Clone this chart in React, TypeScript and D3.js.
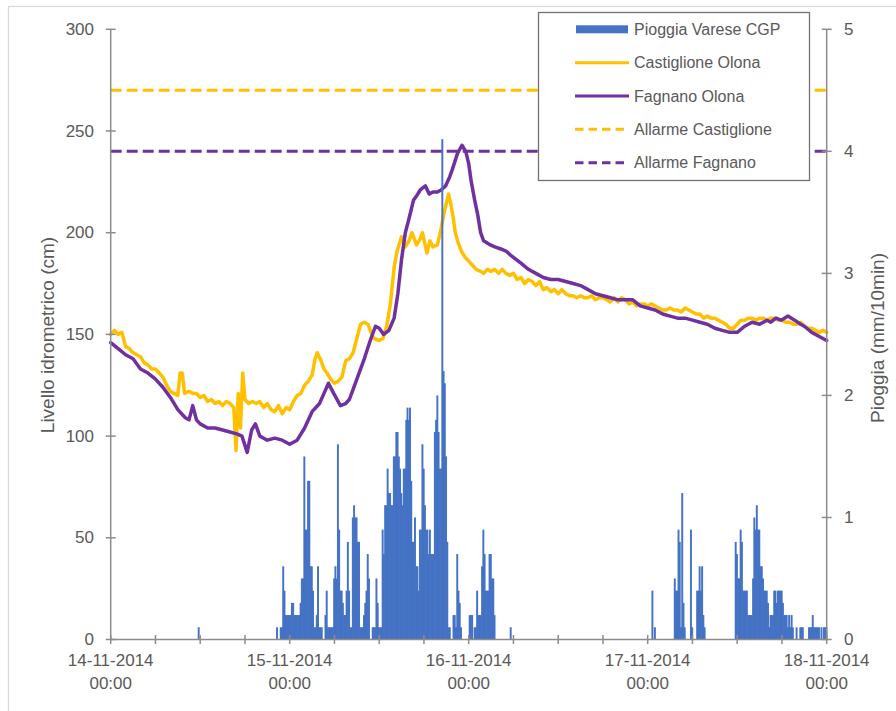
import React from 'react';
import * as d3 from 'd3';

const START = new Date(2014, 10, 14, 0, 0);
const END = new Date(2014, 10, 18, 0, 0);

const dayLabels = ['14-11-2014', '15-11-2014', '16-11-2014', '17-11-2014', '18-11-2014'];
const timeLabel = '00:00';
const levelTicks = [0, 50, 100, 150, 200, 250, 300];
const rainTicks = [0, 1, 2, 3, 4, 5];

const alarmCastiglione = 270;
const alarmFagnano = 240;

const legendNames = ['Pioggia Varese CGP', 'Castiglione Olona', 'Fagnano Olona', 'Allarme Castiglione', 'Allarme Fagnano'];

// [hours after 14-11-2014 00:00, level in cm]
const castiglione = [
    [0, 150], [0.5, 152], [1, 150], [1.5, 151], [2, 144], [2.5, 143], [3, 141], [3.5, 140], [4, 139], [4.5, 136],
    [5, 135], [5.5, 133], [6, 133], [6.5, 131], [7, 129], [7.5, 125], [8, 122], [8.5, 121], [9, 120], [9.3, 131],
    [9.6, 131], [9.9, 121], [10.5, 122], [11, 121], [11.5, 121], [12, 119], [12.5, 120], [13, 117], [13.5, 118], [14, 116],
    [14.5, 117], [15, 115], [15.5, 117], [16, 116], [16.5, 114], [16.8, 93], [17.1, 121], [17.4, 104], [17.7, 131], [18, 118],
    [18.5, 116], [19, 117], [19.5, 116], [20, 117], [20.5, 114], [21, 116], [21.5, 113], [22, 112], [22.5, 115], [23, 111],
    [23.5, 114], [24, 113], [24.5, 117], [25, 120], [25.5, 121], [26, 125], [26.5, 127], [27, 130], [27.4, 138], [27.7, 141],
    [28.2, 137], [28.6, 133], [29, 131], [29.5, 128], [30, 126], [30.5, 127], [31, 129], [31.5, 137], [32, 138], [32.5, 141],
    [33, 148], [33.5, 155], [34, 156], [34.5, 155], [35, 150], [35.3, 148], [36, 147], [36.5, 148], [37, 154], [37.5, 165],
    [38, 183], [38.4, 191], [39, 198], [39.5, 193], [40, 196], [40.4, 200], [41, 194], [41.5, 197], [41.8, 200], [42.4, 190],
    [42.8, 196], [43.2, 193], [43.8, 194], [44.2, 200], [44.6, 208], [44.9, 213], [45.3, 219], [45.6, 214], [45.9, 208], [46.2, 200],
    [46.6, 195], [47, 191], [47.5, 188], [48, 186], [48.5, 184], [49, 182], [49.6, 181], [50, 180], [50.5, 182], [51, 181],
    [51.5, 182], [52, 180], [52.5, 182], [53, 180], [53.5, 179], [54, 180], [54.5, 177], [55, 178], [55.5, 175], [56, 177],
    [56.5, 176], [57, 174], [57.5, 176], [58, 172], [58.5, 173], [59, 171], [59.5, 172], [60, 170], [60.5, 172], [61, 170],
    [61.5, 169], [62, 169], [62.5, 168], [63, 169], [63.5, 168], [64, 168], [64.5, 169], [65, 167], [65.5, 168], [66, 168],
    [66.5, 167], [67, 166], [67.5, 168], [68, 166], [68.5, 168], [69, 167], [69.5, 165], [70, 166], [70.5, 164], [71, 165],
    [71.5, 165], [72, 164], [72.5, 165], [73, 164], [73.5, 163], [74, 162], [74.5, 162], [75, 163], [75.5, 162], [76, 162],
    [76.5, 161], [77, 163], [77.5, 162], [78, 161], [78.5, 160], [79, 160], [79.5, 158], [80, 159], [80.5, 158], [81, 158],
    [81.5, 157], [82, 156], [82.5, 155], [83, 153], [83.5, 153], [84, 155], [84.5, 157], [85, 157], [85.5, 158], [86, 158],
    [86.5, 157], [87, 158], [87.5, 158], [88, 157], [88.5, 158], [89, 158], [89.5, 157], [90, 157], [90.5, 156], [91, 156],
    [91.5, 155], [92, 155], [92.5, 156], [93, 154], [93.5, 153], [94, 153], [94.5, 152], [95, 151], [95.5, 152], [96, 151]
];

const fagnano = [
    [0, 146], [1, 143], [2, 140], [3, 138], [4, 133], [5, 131], [6, 128], [7, 124], [8, 119], [9, 113],
    [10, 109], [10.5, 108], [11, 115], [11.5, 108], [12, 106], [13, 104], [14, 104], [15, 103], [16, 102], [17, 101],
    [17.6, 100], [18.3, 92], [18.9, 103], [19.4, 106], [20, 100], [21, 98], [22, 99], [23, 98], [24, 96], [25, 98],
    [26, 104], [27, 112], [28, 116], [28.6, 121], [29.2, 126], [29.9, 121], [30.8, 115], [31.5, 116], [32, 118], [32.6, 124],
    [33.3, 131], [34, 138], [34.8, 147], [35.5, 154], [36, 153], [36.6, 150], [37.3, 152], [38, 158], [38.5, 170], [39, 187],
    [39.5, 200], [40, 207], [40.6, 216], [41, 218], [41.5, 221], [42.2, 223], [42.7, 219], [43.2, 220], [43.8, 220], [44.3, 221],
    [44.9, 223], [45.4, 227], [45.8, 231], [46.5, 239], [47.1, 243], [47.6, 240], [48, 234], [48.3, 226], [48.8, 216], [49.2, 209],
    [49.6, 200], [50, 196], [50.9, 194], [51.5, 193], [52.3, 192], [53, 191], [53.6, 189], [54.3, 187], [55, 185], [56, 182],
    [57, 180], [58, 178], [59, 177], [60, 177], [61, 176], [62, 175], [63, 174], [64, 172], [65, 170], [66, 169],
    [67, 168], [68, 167], [69, 167], [70, 167], [71, 164], [72, 163], [73, 162], [74, 160], [75, 159], [76, 158],
    [77, 158], [78, 157], [79, 156], [80, 155], [81, 153], [82, 152], [83, 151], [84, 151], [85, 154], [86, 156],
    [87, 155], [88, 157], [88.5, 156], [89.2, 158], [89.9, 157], [90.8, 159], [91.7, 157], [92.5, 155], [93, 154], [94, 151],
    [95, 149], [96, 147]
];

// rain, mm per 10 minutes; first number of each burst = index of its first 10-minute slot
const rain14Noon = [70, 0.1];
const rain15 = [133,
    0.1, 0, 0, 0.1, 0.1, 0.6, 0.4, 0.2, 0.2, 0.2, 0.2, 0.2, 0.3, 0.3, 0.2, 0.2, 0.2, 0.2, 0.2, 0.3,
    0.5, 0.5, 1.5, 0.9, 0.9, 1.3, 1.3, 0.6, 0.6, 0.4, 0.1, 0.1, 0.2, 0.6, 0.1, 0.1, 0.1, 0, 0, 0.2,
    0.4, 0.1, 0.1, 0.1, 0.1, 0.1, 0.5, 0.6, 0.5, 1.6, 0.9, 0.4, 0.4, 0.3, 0.2, 0.2, 0.4, 0.8, 0.4, 0.1,
    0.1, 1.0, 1.1, 1.0, 1.0, 0.8, 0.8, 0.1, 0.1, 0.1, 0.2, 0.3, 0.4, 0.7, 0.5, 0, 0, 0.1, 0.1, 0.1,
    0.5, 0.3, 0.1, 0.1, 0.1, 0.9, 0.7, 1.1, 1.1, 1.4, 1.2, 1.2, 1.1, 1.1, 1.5, 1.5, 1.7, 1.7, 1.5, 1.4,
    1.2, 1.1, 1.4, 1.4, 1.8, 1.9, 1.8, 1.9, 1.3, 0.8, 0.8, 1.0, 0.6, 0.6, 0.4, 0.9, 0.9, 1.6, 1.4, 1.1,
    0.9, 0.9, 0.7, 0.9, 0.7, 0.7, 0.7, 1.7, 1.8, 2.0, 1.7, 1.4, 1.4, 4.1, 2.2, 2.1, 1.5, 0.8, 0.1, 0.1,
    0, 0, 0.2, 0.2, 0.1, 0.7, 0.4, 0.3, 0.1, 0, 0, 0, 0, 0, 0, 0.2, 0.2, 0.2, 0, 0.1,
    0.1, 0.4, 0.2, 0.2, 0.2, 0.6, 0.9, 0.7, 0.4, 0.4, 0.4, 0.7, 0.7, 0.5, 0.5, 0.2
];
const rain16Night = [321, 0.1];
const rain17Morning = [435, 0.4, 0, 0.1];
const rain17Late = [453,
    0.5, 0.4, 0.4, 0.9, 0.8, 0.1, 1.2, 0.3, 0.1, 0, 0, 0, 0, 0.9, 0.1, 0, 0, 0, 0.4, 0.4,
    0.6, 0.4, 0.6, 0.2, 0.1
];
const rain17Evening = [502,
    0.8, 0.7, 0.5, 0.5, 0.9, 0.8, 0.4, 0.4, 0.4, 0.4, 0.2, 0.2, 0.2, 0.2, 0.5, 1.0, 0.9, 1.1, 0.9, 0.9,
    0.6, 0.6, 0.5, 0.4, 0.4, 0.4, 0.3, 0.1, 0.2, 0.2, 0.2, 0.4, 0.4, 0.3, 0.4, 0.4, 0.4, 0.4, 0.3, 0.2,
    0.2, 0.2, 0.1, 0.2, 0.1, 0.2, 0.1, 0, 0, 0.1, 0, 0, 0.1, 0.1, 0.1, 0, 0, 0, 0, 0.1,
    0.1, 0.1, 0.2, 0.1, 0.1, 0.1, 0.1, 0.1, 0, 0.1, 0, 0.1, 0.1, 0.1
];
const rainBursts = [rain14Noon, rain15, rain16Night, rain17Morning, rain17Late, rain17Evening];

const HOUR = 3600 * 1000;
const SLOT = 10 * 60 * 1000;

const width = 896;
const height = 711;
const plot = { left: 110.7, right: 826.7, top: 29.3, bottom: 639.5 };

const FONT = '"Liberation Sans", Arial, sans-serif';
const GREY_TEXT = '#595959';
const AXIS = '#8c8c8c';
const BLUE = '#4472C4';
const YELLOW = '#FFC000';
const PURPLE = '#7030A0';

export default function App() {
    const axesRef = React.useRef(null);

    const x = d3.scaleTime().domain([START, END]).range([plot.left, plot.right]);
    const yLevel = d3.scaleLinear().domain([0, 300]).range([plot.bottom, plot.top]);
    const yRain = d3.scaleLinear().domain([0, 5]).range([plot.bottom, plot.top]);

    const at = (h) => new Date(START.getTime() + h * HOUR);

    const levelLine = d3.line()
        .x(d => x(at(d[0])))
        .y(d => yLevel(d[1]));

    const bars = [];
    rainBursts.forEach(burst => {
        const first = burst[0];
        burst.slice(1).forEach((v, i) => {
            if (v > 0) bars.push({ t: new Date(START.getTime() + (first + i) * SLOT), v });
        });
    });
    const slotWidth = x(new Date(START.getTime() + SLOT)) - x(START);

    React.useEffect(() => {
        if (!axesRef.current) return;
        const g = d3.select(axesRef.current);
        g.selectAll('*').remove();

        const sixHours = d3.range(0, 97, 6).map(at);

        // bottom axis, ticks every 6h crossing the line
        const bottom = g.append('g').attr('transform', `translate(0,${plot.bottom})`);
        bottom.append('line')
            .attr('x1', plot.left).attr('x2', plot.right)
            .attr('stroke', AXIS).attr('stroke-width', 1.5);
        bottom.selectAll('line.tick').data(sixHours).enter().append('line')
            .attr('class', 'tick')
            .attr('x1', d => x(d)).attr('x2', d => x(d))
            .attr('y1', -4.5).attr('y2', 4.5)
            .attr('stroke', AXIS).attr('stroke-width', 1.5);

        const days = d3.timeDay.range(START, d3.timeHour.offset(END, 1));
        const labels = bottom.selectAll('g.lab').data(days).enter().append('g')
            .attr('class', 'lab')
            .attr('transform', d => `translate(${x(d)},0)`);
        labels.append('text')
            .attr('y', 20.5).attr('text-anchor', 'middle').attr('dominant-baseline', 'central')
            .attr('font-size', 17).attr('font-family', FONT).attr('fill', GREY_TEXT)
            .text((d, i) => dayLabels[i]);
        labels.append('text')
            .attr('y', 44).attr('text-anchor', 'middle').attr('dominant-baseline', 'central')
            .attr('font-size', 17).attr('font-family', FONT).attr('fill', GREY_TEXT)
            .text(timeLabel);

        // left axis
        const left = g.append('g');
        left.append('line')
            .attr('x1', plot.left).attr('x2', plot.left)
            .attr('y1', plot.top).attr('y2', plot.bottom)
            .attr('stroke', AXIS).attr('stroke-width', 1.5);
        left.selectAll('line.tick').data(levelTicks).enter().append('line')
            .attr('class', 'tick')
            .attr('x1', plot.left - 5).attr('x2', plot.left + 5)
            .attr('y1', d => yLevel(d)).attr('y2', d => yLevel(d))
            .attr('stroke', AXIS).attr('stroke-width', 1.5);
        left.selectAll('text').data(levelTicks).enter().append('text')
            .attr('x', 94).attr('y', d => yLevel(d))
            .attr('text-anchor', 'end').attr('dominant-baseline', 'central')
            .attr('font-size', 17).attr('font-family', FONT).attr('fill', GREY_TEXT)
            .text(d => d);

        // right axis
        const right = g.append('g');
        right.append('line')
            .attr('x1', plot.right).attr('x2', plot.right)
            .attr('y1', plot.top).attr('y2', plot.bottom)
            .attr('stroke', AXIS).attr('stroke-width', 1.5);
        right.selectAll('line.tick').data(rainTicks).enter().append('line')
            .attr('class', 'tick')
            .attr('x1', plot.right - 5).attr('x2', plot.right + 5)
            .attr('y1', d => yRain(d)).attr('y2', d => yRain(d))
            .attr('stroke', AXIS).attr('stroke-width', 1.5);
        right.selectAll('text').data(rainTicks).enter().append('text')
            .attr('x', 844).attr('y', d => yRain(d))
            .attr('text-anchor', 'start').attr('dominant-baseline', 'central')
            .attr('font-size', 17).attr('font-family', FONT).attr('fill', GREY_TEXT)
            .text(d => d);
    }, []);

    const legendY = (i) => 29.3 + i * 33.35;

    return (
        <svg width={width} height={height} style={{ position: 'absolute', left: 0, top: 0, display: 'block', background: '#fff' }}>
            <rect x={8.5} y={6.5} width={width} height={height} fill="#fff" stroke="#d9d9d9" strokeWidth={1.3} />

            {/* level lines */}
            <path d={levelLine(castiglione)} fill="none" stroke={YELLOW} strokeWidth={3.5} strokeLinejoin="round" strokeLinecap="round" />
            <path d={levelLine(fagnano)} fill="none" stroke={PURPLE} strokeWidth={3.5} strokeLinejoin="round" strokeLinecap="round" />

            {/* rain bars (secondary axis) */}
            <g>
                {bars.map((b, i) => (
                    <rect key={i} x={x(b.t)} width={slotWidth + 0.7} y={yRain(b.v)} height={yRain(0) - yRain(b.v)} fill={BLUE} />
                ))}
            </g>

            {/* alarm thresholds */}
            <line x1={plot.left} x2={plot.right} y1={yLevel(alarmCastiglione)} y2={yLevel(alarmCastiglione)}
                stroke={YELLOW} strokeWidth={3} strokeDasharray="11,5" />
            <line x1={plot.left} x2={plot.right} y1={yLevel(alarmFagnano)} y2={yLevel(alarmFagnano)}
                stroke={PURPLE} strokeWidth={3} strokeDasharray="11,5" />

            <g ref={axesRef} />

            {/* axis titles */}
            <text transform="translate(47,335) rotate(-90)" textAnchor="middle" dominantBaseline="central"
                fontSize={19} fontFamily={FONT} fill={GREY_TEXT}>Livello idrometrico (cm)</text>
            <text transform="translate(877,338) rotate(-90)" textAnchor="middle" dominantBaseline="central"
                fontSize={19} fontFamily={FONT} fill={GREY_TEXT}>Pioggia (mm/10min)</text>

            {/* legend */}
            <g>
                <rect x={538.5} y={12.5} width={271} height={168} fill="#fff" stroke="#737373" strokeWidth={1.3} />
                <rect x={576} y={legendY(0) - 4} width={52} height={8} fill={BLUE} />
                <line x1={575} x2={629} y1={legendY(1)} y2={legendY(1)} stroke={YELLOW} strokeWidth={3} />
                <line x1={575} x2={629} y1={legendY(2)} y2={legendY(2)} stroke={PURPLE} strokeWidth={3} />
                <line x1={575} x2={629} y1={legendY(3)} y2={legendY(3)} stroke={YELLOW} strokeWidth={3} strokeDasharray="8.5,5" />
                <line x1={575} x2={629} y1={legendY(4)} y2={legendY(4)} stroke={PURPLE} strokeWidth={3} strokeDasharray="8.5,5" />
                {legendNames.map((name, i) => (
                    <text key={name} x={634} y={legendY(i)} dominantBaseline="central"
                        fontSize={16} fontFamily={FONT} fill={GREY_TEXT}>{name}</text>
                ))}
            </g>
        </svg>
    );
}
